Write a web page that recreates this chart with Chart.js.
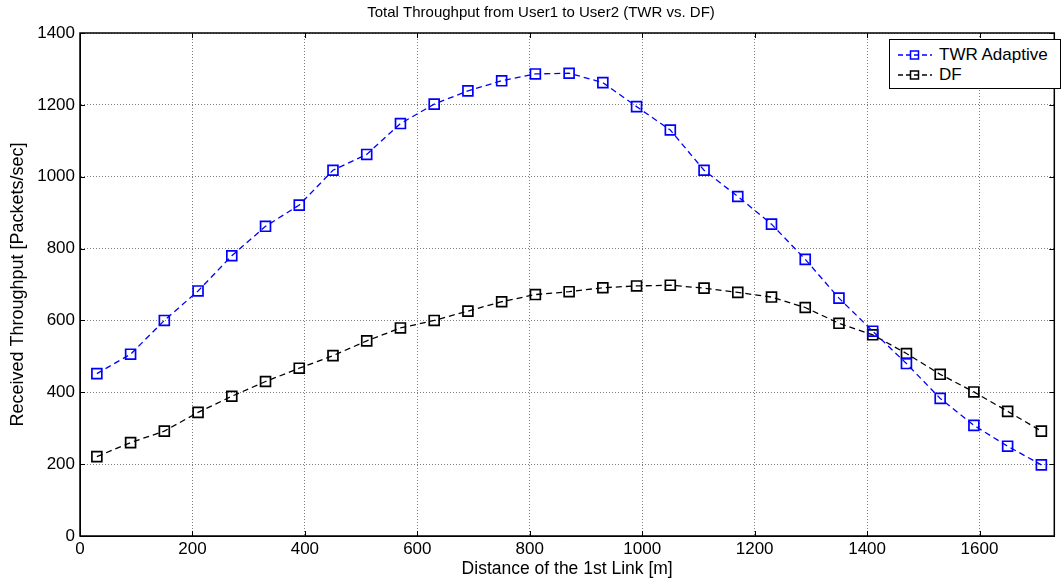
<!DOCTYPE html>
<html>
<head>
<meta charset="utf-8">
<script src="https://cdn.jsdelivr.net/npm/chart.js@4/dist/chart.umd.min.js"></script>
<style>
    body { margin: 0; background: #fff; }
    #wrap { position: relative; width: 1063px; height: 583px; }
    #legend {
        position: absolute; left: 889px; top: 39px; width: 170px; height: 48px;
        border: 1px solid #000; background: #fff;
        font-family: 'Liberation Sans', Arial, sans-serif; font-size: 17px; color: #000;
    }
    #legend .row { position: absolute; left: 7px; height: 20px; line-height: 20px; white-space: nowrap; }
    #legend svg { vertical-align: middle; margin-right: 6px; position: relative; top: -1px; }
</style>
</head>
<body>
<div id="wrap">
    <canvas id="chart" width="1063" height="583"></canvas>
    <div id="legend"></div>
</div>
<script>
// distance of the 1st link [m]
var distances = [30, 90, 150, 210, 270, 330, 390, 450, 510, 570, 630, 690, 750, 810, 870,
    930, 990, 1050, 1110, 1170, 1230, 1290, 1350, 1410, 1470, 1530, 1590, 1650, 1710];

// received throughput [packets/sec]
var twrAdaptive = [452, 506, 600, 682, 780, 862, 921, 1018, 1062, 1148, 1202, 1239, 1267, 1286, 1288,
    1262, 1195, 1130, 1018, 945, 868, 770, 662, 570, 480, 383, 308, 250, 198];
var df = [221, 260, 292, 344, 389, 430, 467, 502, 543, 579, 600, 626, 652, 672, 680,
    691, 696, 698, 690, 678, 665, 636, 592, 560, 508, 450, 401, 347, 292];

var xTicks = [0, 200, 400, 600, 800, 1000, 1200, 1400, 1600];
var yTicks = [0, 200, 400, 600, 800, 1000, 1200, 1400];

var seriesNames = ['TWR Adaptive', 'DF'];
var seriesColors = ['#0000ff', '#000000'];

var font = "'Liberation Sans', Arial, sans-serif";

function toPoints(values) {
    return values.map(function (v, i) {
        return { x: distances[i], y: v };
    });
}

// title sits a little right of the canvas centre, like the original figure
var titleShift = {
    id: 'titleShift',
    afterLayout: function (c) {
        if (c.titleBlock) {
            c.titleBlock.left = 20;
        }
    }
};

// box round the plot and MATLAB style inner tick marks
var framePlugin = {
    id: 'frame',
    afterDraw: function (c) {
        var a = c.chartArea;
        var ctx = c.ctx;
        var xs = c.scales.x;
        var ys = c.scales.y;
        ctx.save();
        ctx.strokeStyle = '#000';
        ctx.lineWidth = 1;
        ctx.beginPath();
        xTicks.forEach(function (t) {
            var px = Math.round(xs.getPixelForValue(t)) + 0.5;
            ctx.moveTo(px, a.bottom); ctx.lineTo(px, a.bottom - 5);
            ctx.moveTo(px, a.top); ctx.lineTo(px, a.top + 5);
        });
        yTicks.forEach(function (t) {
            var py = Math.round(ys.getPixelForValue(t)) + 0.5;
            ctx.moveTo(a.left, py); ctx.lineTo(a.left + 5, py);
            ctx.moveTo(a.right, py); ctx.lineTo(a.right - 5, py);
        });
        ctx.stroke();
        ctx.lineWidth = 1.5;
        ctx.strokeRect(a.left, a.top, a.right - a.left, a.bottom - a.top);
        ctx.restore();
    }
};

var datasets = [twrAdaptive, df].map(function (values, i) {
    return {
        label: seriesNames[i],
        data: toPoints(values),
        borderColor: seriesColors[i],
        backgroundColor: 'rgba(0,0,0,0)',
        borderWidth: 1.3,
        borderDash: [6, 4],
        pointStyle: 'rect',
        pointRadius: 7,
        pointHoverRadius: 7,
        pointBorderWidth: 1.7,
        pointBackgroundColor: 'rgba(0,0,0,0)',
        tension: 0
    };
});

function plain(v) {
    return String(v);
}

var chart = new Chart(document.getElementById('chart').getContext('2d'), {
    type: 'line',
    data: { datasets: datasets },
    options: {
        responsive: false,
        animation: false,
        devicePixelRatio: 1,
        layout: { padding: { left: 0, right: 1, top: 0, bottom: 0 } },
        plugins: {
            legend: { display: false },
            tooltip: { enabled: false },
            title: {
                display: true,
                text: 'Total Throughput from User1 to User2 (TWR vs. DF)',
                color: '#000',
                font: { family: font, size: 15, weight: 'normal' },
                padding: { top: 4, bottom: 11 }
            }
        },
        scales: {
            x: {
                type: 'linear',
                min: 0,
                max: 1733,
                afterFit: function (s) { s.height = 47; },
                afterBuildTicks: function (s) {
                    s.ticks = xTicks.map(function (v) { return { value: v }; });
                },
                ticks: { color: '#000', font: { family: font, size: 17 }, padding: 3, maxRotation: 0, callback: plain },
                grid: { color: 'rgba(0,0,0,0.5)', drawTicks: false, lineWidth: 1 },
                border: { display: true, color: '#000', width: 1, dash: [1, 2] },
                title: {
                    display: true,
                    text: 'Distance of the 1st Link [m]',
                    color: '#000',
                    font: { family: font, size: 17.5 },
                    padding: { top: 3, bottom: 3 }
                }
            },
            y: {
                type: 'linear',
                min: 0,
                max: 1400,
                afterFit: function (s) { s.width = 80; },
                afterBuildTicks: function (s) {
                    s.ticks = yTicks.map(function (v) { return { value: v }; });
                },
                ticks: { color: '#000', font: { family: font, size: 17 }, padding: 5, callback: plain },
                grid: { color: 'rgba(0,0,0,0.5)', drawTicks: false, lineWidth: 1 },
                border: { display: true, color: '#000', width: 1, dash: [1, 2] },
                title: {
                    display: true,
                    text: 'Received Throughput [Packets/sec]',
                    color: '#000',
                    font: { family: font, size: 18 },
                    padding: { top: 7, bottom: 7 }
                }
            }
        }
    },
    plugins: [titleShift, framePlugin]
});

// legend box in the upper right corner
var legend = document.getElementById('legend');
seriesNames.forEach(function (name, i) {
    var row = document.createElement('div');
    row.className = 'row';
    row.style.top = (5 + i * 20) + 'px';
    var c = seriesColors[i];
    row.innerHTML =
        '<svg width="36" height="14"><line x1="1" y1="7" x2="35" y2="7" stroke="' + c +
        '" stroke-width="1.3" stroke-dasharray="5 3"/><rect x="13.5" y="3" width="8" height="8" fill="none" stroke="' + c +
        '" stroke-width="1.5"/></svg>' + name;
    legend.appendChild(row);
});
</script>
</body>
</html>
